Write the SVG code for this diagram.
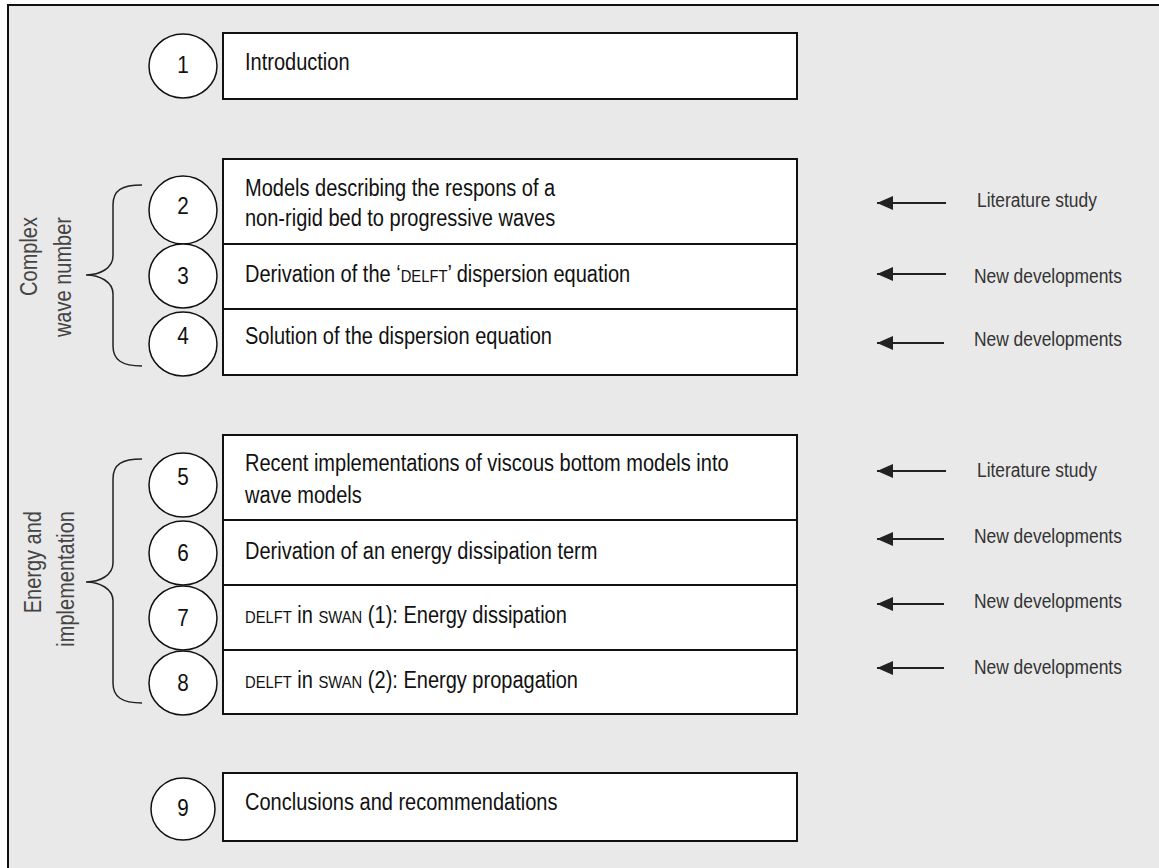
<svg xmlns="http://www.w3.org/2000/svg" width="1159" height="868" viewBox="0 0 1159 868">
<style>
  .frame { fill: #e9e9e9; stroke: #111; stroke-width: 2; }
  .box { fill: #fff; stroke: #111; stroke-width: 2; }
  .div { stroke: #111; stroke-width: 2; }
  .circ { fill: #fff; stroke: #111; stroke-width: 1.5; }
  .num { font-family: "Liberation Sans", Arial, sans-serif; font-size: 23px; fill: #111; text-anchor: middle; }
  .t { font-family: "Liberation Sans", Arial, sans-serif; font-size: 23px; fill: #111; }
  .sc { font-size: 17px; }
  .side { font-family: "Liberation Sans", Arial, sans-serif; font-size: 23px; fill: #444; text-anchor: end; }
  .lbl { font-family: "Liberation Sans", Arial, sans-serif; font-size: 20px; fill: #333; }
  .brace { fill: none; stroke: #222; stroke-width: 1.5; }
  .arr { stroke: #222; stroke-width: 2; fill: none; marker-end: url(#ah); }
</style>
<defs>
  <marker id="ah" markerUnits="userSpaceOnUse" markerWidth="16" markerHeight="14" viewBox="0 0 16 14" refX="16" refY="7" orient="auto">
    <path d="M0,0 L16,7 L0,14 Z" fill="#222"/>
  </marker>
</defs>
<rect x="0" y="0" width="1159" height="868" fill="#fff"/>
<rect class="frame" x="8" y="5" width="1160" height="875"/>

<g id="node1">
  <rect class="box" x="223" y="33" width="574" height="66"/>
  <ellipse class="circ" cx="183" cy="66" rx="34" ry="32"/>
  <text class="num" transform="translate(183,73) scale(0.9,1)">1</text>
  <text class="t" transform="translate(245,70) scale(0.87,1)">Introduction</text>
</g>

<g id="group-complex">
  <rect class="box" x="223" y="159" width="574" height="216"/>
  <line class="div" x1="223" y1="244" x2="797" y2="244"/>
  <line class="div" x1="223" y1="309" x2="797" y2="309"/>
  <path class="brace" d="M142,185 C122,185 113,190 113,205 L113,256 C113,268 100,275 86,275 C100,275 113,282 113,294 L113,346 C113,360 122,366 142,366"/>
  <text class="side" transform="translate(37,217) rotate(-90) scale(0.87,1)">Complex</text>
  <text class="side" transform="translate(71,217) rotate(-90) scale(0.87,1)">wave number</text>
</g>
<g id="node2">
  <ellipse class="circ" cx="183" cy="210" rx="34" ry="34"/>
  <text class="num" transform="translate(183,214) scale(0.9,1)">2</text>
  <text class="t" transform="translate(245,196) scale(0.87,1)">Models describing the respons of a</text>
  <text class="t" transform="translate(245,226) scale(0.87,1)">non-rigid bed to progressive waves</text>
</g>
<g id="node3">
  <ellipse class="circ" cx="183" cy="276" rx="34" ry="32"/>
  <text class="num" transform="translate(183,284) scale(0.9,1)">3</text>
  <text class="t" transform="translate(245,282) scale(0.87,1)">Derivation of the ‘<tspan class="sc">DELFT</tspan>’ dispersion equation</text>
</g>
<g id="node4">
  <ellipse class="circ" cx="183" cy="344" rx="34" ry="32"/>
  <text class="num" transform="translate(183,344) scale(0.9,1)">4</text>
  <text class="t" transform="translate(245,344) scale(0.87,1)">Solution of the dispersion equation</text>
</g>

<g id="group-energy">
  <rect class="box" x="223" y="435" width="574" height="279"/>
  <line class="div" x1="223" y1="520" x2="797" y2="520"/>
  <line class="div" x1="223" y1="585" x2="797" y2="585"/>
  <line class="div" x1="223" y1="650" x2="797" y2="650"/>
  <path class="brace" d="M142,459 C122,459 113,464 113,479 L113,563 C113,575 100,582 86,582 C100,582 113,589 113,601 L113,683 C113,697 122,703 142,703"/>
  <text class="side" transform="translate(41,511) rotate(-90) scale(0.87,1)">Energy and</text>
  <text class="side" transform="translate(74,511) rotate(-90) scale(0.87,1)">implementation</text>
</g>
<g id="node5">
  <ellipse class="circ" cx="183" cy="485" rx="34" ry="32"/>
  <text class="num" transform="translate(183,485) scale(0.9,1)">5</text>
  <text class="t" transform="translate(245,471) scale(0.87,1)">Recent implementations of viscous bottom models into</text>
  <text class="t" transform="translate(245,503) scale(0.87,1)">wave models</text>
</g>
<g id="node6">
  <ellipse class="circ" cx="183" cy="553" rx="34" ry="32"/>
  <text class="num" transform="translate(183,561) scale(0.9,1)">6</text>
  <text class="t" transform="translate(245,559) scale(0.87,1)">Derivation of an energy dissipation term</text>
</g>
<g id="node7">
  <ellipse class="circ" cx="183" cy="618" rx="34" ry="32"/>
  <text class="num" transform="translate(183,626) scale(0.9,1)">7</text>
  <text class="t" transform="translate(245,623) scale(0.87,1)"><tspan class="sc">DELFT</tspan> in <tspan class="sc">SWAN</tspan> (1): Energy dissipation</text>
</g>
<g id="node8">
  <ellipse class="circ" cx="183" cy="683" rx="34" ry="32"/>
  <text class="num" transform="translate(183,691) scale(0.9,1)">8</text>
  <text class="t" transform="translate(245,688) scale(0.87,1)"><tspan class="sc">DELFT</tspan> in <tspan class="sc">SWAN</tspan> (2): Energy propagation</text>
</g>

<g id="node9">
  <rect class="box" x="223" y="773" width="574" height="68"/>
  <ellipse class="circ" cx="183" cy="809" rx="32" ry="31"/>
  <text class="num" transform="translate(183,816) scale(0.9,1)">9</text>
  <text class="t" transform="translate(245,810) scale(0.87,1)">Conclusions and recommendations</text>
</g>

<g id="connectors">
  <line class="arr" x1="946" y1="203" x2="877" y2="203"/>
  <line class="arr" x1="946" y1="274" x2="877" y2="274"/>
  <line class="arr" x1="944" y1="343" x2="877" y2="343"/>
  <line class="arr" x1="946" y1="471" x2="877" y2="471"/>
  <line class="arr" x1="944" y1="539" x2="877" y2="539"/>
  <line class="arr" x1="944" y1="604" x2="877" y2="604"/>
  <line class="arr" x1="944" y1="668" x2="877" y2="668"/>
</g>

<g id="labels">
  <text class="lbl" transform="translate(977,207) scale(0.87,1)">Literature study</text>
  <text class="lbl" transform="translate(974,283) scale(0.87,1)">New developments</text>
  <text class="lbl" transform="translate(974,346) scale(0.87,1)">New developments</text>
  <text class="lbl" transform="translate(977,477) scale(0.87,1)">Literature study</text>
  <text class="lbl" transform="translate(974,543) scale(0.87,1)">New developments</text>
  <text class="lbl" transform="translate(974,608) scale(0.87,1)">New developments</text>
  <text class="lbl" transform="translate(974,674) scale(0.87,1)">New developments</text>
</g>
</svg>
